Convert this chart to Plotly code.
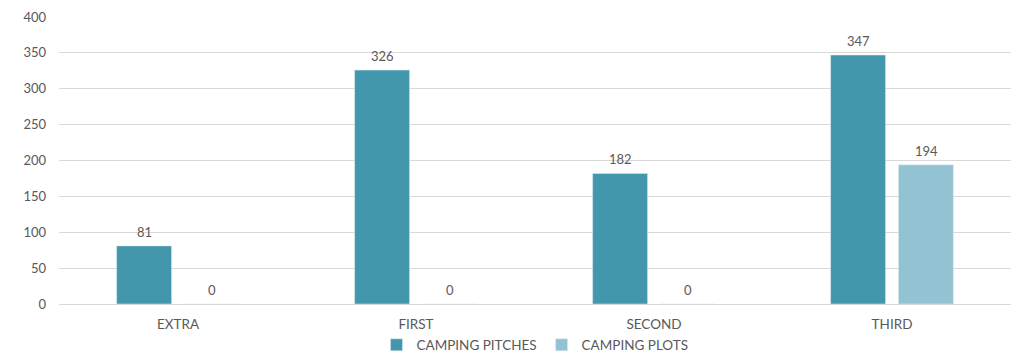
import plotly.graph_objects as go

categories = ["EXTRA", "FIRST", "SECOND", "THIRD"]
pitches = [81, 326, 182, 347]
plots = [0, 0, 0, 194]
tick_vals = [0, 50, 100, 150, 200, 250, 300, 350, 400]

font_family = "Lato, Open Sans, sans-serif"
text_color = "#595959"

fig = go.Figure()
fig.add_trace(go.Bar(
    x=categories, y=pitches, name="CAMPING PITCHES",
    marker=dict(color="#4397AD"),
))
fig.add_trace(go.Bar(
    x=categories, y=plots, name="CAMPING PLOTS",
    marker=dict(color="#93C3D3"),
))

# value labels placed above each bar (offset within the group in pixels)
for series, shift in ((pitches, -34), (plots, 34)):
    for cat, val in zip(categories, series):
        fig.add_annotation(
            x=cat, y=val, text=str(val), showarrow=False,
            xshift=shift, yanchor="bottom", yshift=4,
            font=dict(size=13, color=text_color, family=font_family),
        )

fig.update_layout(
    width=1016, height=354,
    margin=dict(l=59, r=5, t=17, b=50, autoexpand=False),
    paper_bgcolor="white", plot_bgcolor="white",
    barmode="group", bargap=0.43, bargroupgap=0.19,
    font=dict(family=font_family, size=13, color=text_color),
    showlegend=True,
    legend=dict(orientation="h", x=0.5, xanchor="center", y=-0.143, yanchor="middle",
                font=dict(size=13.5, color=text_color), itemwidth=30,
                traceorder="normal"),
    xaxis=dict(showgrid=False, showline=True, linecolor="#d9d9d9", ticks="",
               ticklabelstandoff=8,
               tickfont=dict(size=13.5, color=text_color)),
    yaxis=dict(range=[0, 400], tickvals=tick_vals, showgrid=True,
               gridcolor="#d9d9d9", gridwidth=1, zeroline=False, ticks="",
               ticklabelstandoff=12,
               tickfont=dict(size=13, color=text_color)),
)

fig.write_html("out.html")
